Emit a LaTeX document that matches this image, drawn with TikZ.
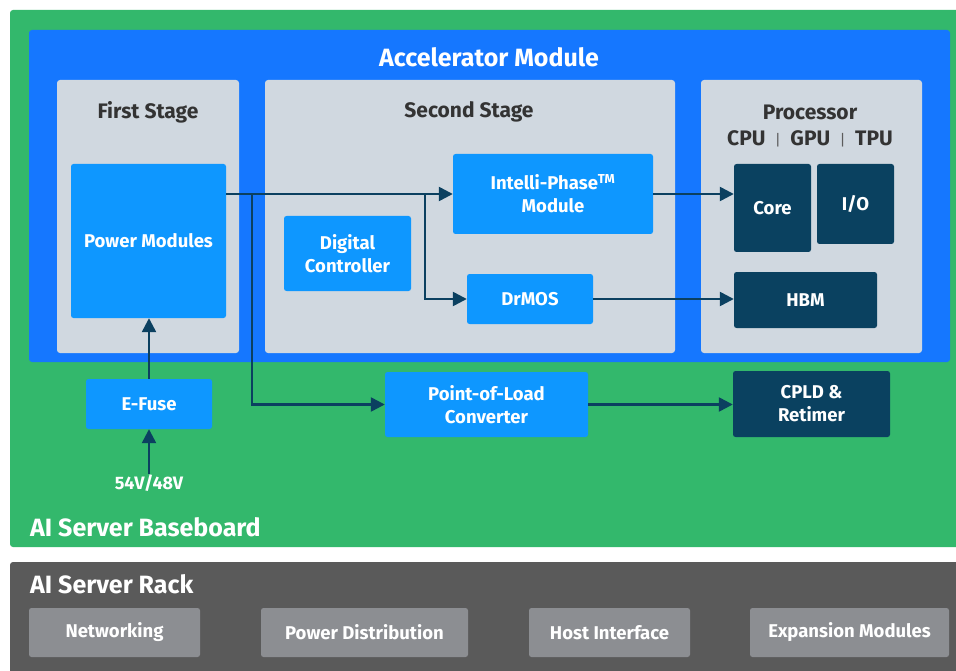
\documentclass[tikz,border=0pt]{standalone}
\usepackage{fontspec}
\setmainfont{Fira Sans}
\usetikzlibrary{arrows.meta}
\definecolor{boardgreen}{HTML}{33B86C}
\definecolor{accblue}{HTML}{1577FF}
\definecolor{lightblue}{HTML}{0E97FF}
\definecolor{panelgrey}{HTML}{D0D8E0}
\definecolor{darkteal}{HTML}{0A4160}
\definecolor{wire}{HTML}{0B4060}
\definecolor{titlegrey}{HTML}{333333}
\definecolor{rackgrey}{HTML}{5A5A5A}
\definecolor{slotgrey}{HTML}{8C8E92}
\tikzset{
  region/.style={rounded corners=3pt, draw=none},
  panel/.style={region, fill=panelgrey, inner sep=0pt},
  bluebox/.style={rounded corners=2.5pt, fill=lightblue, text=white, align=center,
    font=\fontsize{18.5}{23}\selectfont\bfseries, inner sep=0pt},
  darkbox/.style={bluebox, fill=darkteal},
  slot/.style={bluebox, fill=slotgrey},
  paneltitle/.style={text=titlegrey, font=\fontsize{21}{24}\selectfont\bfseries, inner sep=0pt},
  bigtitle/.style={text=white, font=\fontsize{25}{28}\selectfont\bfseries, inner sep=0pt},
  flow/.style={draw=wire, line width=2.4pt, -{Triangle[length=14pt, width=14pt]}}
}
\newcommand{\procsep}{\hspace{0.45em}{\mdseries\fontsize{15}{15}\selectfont\color{titlegrey!80}|}\hspace{0.45em}}
\begin{document}
\begin{tikzpicture}[x=1pt, y=-1pt]
\useasboundingbox (0,0) rectangle (956,671);
\fill[white] (0,0) rectangle (956,671);

% baseboard and rack
\fill[region, fill=boardgreen] (10,10) rectangle (960,547);
\fill[region, fill=rackgrey] (10,562) rectangle (960,680);
% accelerator module
\fill[region, fill=accblue] (29,30) rectangle (950,362);
\node[bigtitle] (acctitle) at (489,57) {Accelerator Module};

% stage panels
\node[panel, minimum width=182pt, minimum height=273pt] (stage1) at (148,216.5) {};
\node[panel, minimum width=410pt, minimum height=273pt] (stage2) at (470,216.5) {};
\node[panel, minimum width=221pt, minimum height=273pt] (proc) at (811.5,216.5) {};
\node[paneltitle] (t1) at (148,112) {First Stage};
\node[paneltitle] (t2) at (469,112) {Second Stage};
\node[paneltitle] (t3) at (810,112) {Processor};
\node[paneltitle] (t4) at (810,139) {CPU\procsep GPU\procsep TPU};

% blocks
\node[bluebox, minimum width=155pt, minimum height=154pt] (pm) at (148.5,241) {Power Modules};
\node[bluebox, minimum width=127pt, minimum height=75pt] (dc) at (347.5,253.5) {Digital\\Controller};
\node[bluebox, minimum width=200pt, minimum height=80pt] (ip) at (553,194) {Intelli-Phase\textsuperscript{TM}\\Module};
\node[bluebox, minimum width=126pt, minimum height=50pt] (drmos) at (530,299) {DrMOS};
\node[darkbox, minimum width=77pt, minimum height=88pt] (core) at (772.5,208) {Core};
\node[darkbox, minimum width=77pt, minimum height=80pt] (io) at (855.5,204) {I/O};
\node[darkbox, minimum width=143pt, minimum height=56pt] (hbm) at (805.5,300) {HBM};
\node[bluebox, minimum width=126pt, minimum height=50pt] (efuse) at (149,404) {E-Fuse};
\node[bluebox, minimum width=203pt, minimum height=65pt] (pol) at (486.5,404.5) {Point-of-Load\\Converter};
\node[darkbox, minimum width=157pt, minimum height=66pt] (cpld) at (811.5,404) {CPLD \&\\Retimer};
\node[text=white, font=\fontsize{18}{20}\selectfont\bfseries, inner sep=1pt, anchor=north] (volt) at (149,474) {54V/48V};

% board labels
\node[bigtitle, anchor=west] (board) at (30,527) {AI Server Baseboard};
\node[bigtitle, anchor=west] (rack) at (30,584) {AI Server Rack};

% rack slots
\node[slot, minimum width=171pt, minimum height=49pt] (net) at (114.5,632.5) {Networking};
\node[slot, minimum width=207pt, minimum height=49pt] (pdist) at (364.5,632.5) {Power Distribution};
\node[slot, minimum width=161pt, minimum height=49pt] (host) at (609.5,632.5) {Host Interface};
\node[slot, minimum width=199pt, minimum height=49pt] (exp) at (849.5,632.5) {Expansion Modules};

% power flow
\coordinate (j1) at (252,194);
\coordinate (j2) at (425,194);
\draw[flow] (pm.east |- ip.west) -- (ip.west);
\draw[flow] (j1) |- (pol.west);
\draw[flow] (j2) |- (drmos.west);
\draw[flow] (ip.east) -- (ip.east -| core.west);
\draw[flow] (drmos.east) -- (drmos.east -| hbm.west);
\draw[flow] (pol.east) -- (pol.east -| cpld.west);
\draw[flow] (efuse.north) -- (efuse.north |- pm.south);
\draw[flow] (volt.north) -- (efuse.south);
\end{tikzpicture}
\end{document}
